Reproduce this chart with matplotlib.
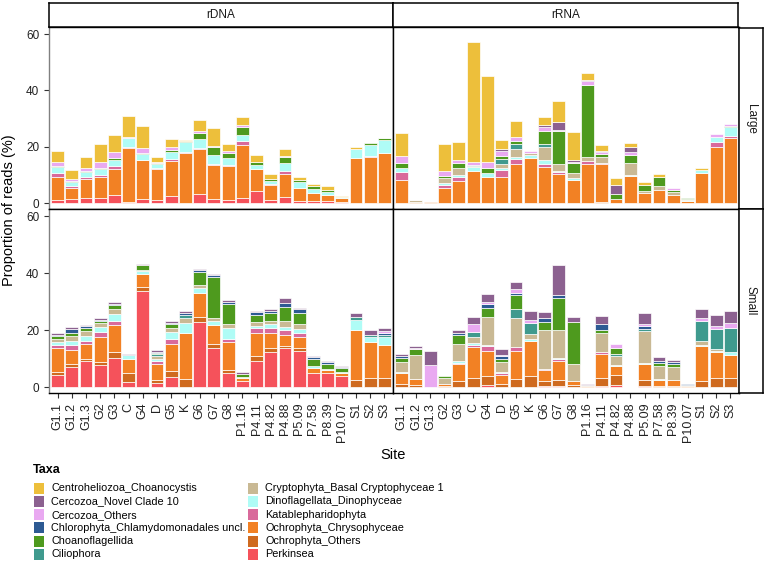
import numpy as np
import matplotlib
matplotlib.use("Agg")
import matplotlib.pyplot as plt
from matplotlib.patches import Rectangle

plt.rcParams['font.family'] = ['Liberation Sans', 'DejaVu Sans']

# Sites along the x axis
sites = ["G1.1", "G1.2", "G1.3", "G2", "G3", "C", "G4", "D", "G5", "K", "G6", "G7",
         "G8", "P1.16", "P4.11", "P4.82", "P4.88", "P5.09", "P7.58", "P8.39", "P10.07",
         "S1", "S2", "S3"]

# Legend order (top of stack first)
taxa = ["Centroheliozoa_Choanocystis", "Cercozoa_Novel Clade 10", "Cercozoa_Others",
        "Chlorophyta_Chlamydomonadales uncl.", "Choanoflagellida", "Ciliophora",
        "Cryptophyta_Basal Cryptophyceae 1", "Dinoflagellata_Dinophyceae",
        "Katablepharidophyta", "Ochrophyta_Chrysophyceae", "Ochrophyta_Others", "Perkinsea"]

taxa_colors = ["#EDBF3B", "#8C6190", "#E9A9F1", "#2D5A93", "#4E9A1E", "#3F9A8E",
               "#C9B994", "#AFFCF6", "#D96A9B", "#F28124", "#CF6A1F", "#F5525B"]

# Proportion of reads (%), one row per site, columns in stacking order (bottom -> top):
# Perkinsea, Ochro_Others, Chrysophyceae, Katablepharido, Dinophyceae, Cryptophyta,
# Ciliophora, Choanoflagellida, Chlorophyta, Cercozoa_Others, Cercozoa_NC10, Centroheliozoa
large_rdna = np.array([
    [1.1, 0, 8.1, 1.4, 2.2, 0, 0, 0.5, 0, 1.5, 0, 3.7],
    [1.4, 0, 4.1, 0.6, 1.5, 0, 0, 0.5, 0, 0.6, 0, 3.1],
    [1.8, 0, 6.7, 1.0, 1.7, 0, 0, 0.4, 0, 0.9, 0, 4.0],
    [2.0, 0, 7.2, 0.8, 2.1, 0, 0, 0.4, 0, 2.3, 0, 6.4],
    [2.8, 0, 9.2, 1.3, 2.2, 0, 0, 0.6, 0, 2.1, 0, 5.9],
    [0.6, 0, 19.0, 0.4, 3.2, 0, 0, 0, 0, 0.3, 0, 7.3],
    [1.5, 0, 13.7, 0.3, 2.0, 0, 0, 0.5, 0, 1.6, 0, 7.7],
    [1.2, 0, 10.8, 0.4, 1.4, 0, 0, 0.4, 0, 0.5, 0, 1.7],
    [2.7, 0, 12.2, 0.9, 2.4, 0, 0, 0.8, 0, 1.0, 0, 2.8],
    [0.3, 0, 17.6, 0.3, 3.4, 0, 0, 0.6, 0, 0, 0, 0.4],
    [3.2, 0, 15.9, 0.5, 3.2, 0, 0, 2.0, 0, 1.0, 0, 3.6],
    [1.4, 0, 12.1, 0.5, 3.2, 0, 0, 2.6, 0, 0.6, 0, 6.3],
    [1.1, 0, 12.1, 0.4, 2.3, 0, 0, 2.1, 0, 0.5, 0, 2.6],
    [1.9, 0, 18.7, 1.6, 1.9, 0, 0, 2.8, 0, 1.0, 0, 2.6],
    [4.5, 0, 7.5, 0, 1.6, 0, 0, 1.0, 0, 0, 0, 2.7],
    [1.2, 0, 5.2, 0.3, 1.2, 0, 0, 0.7, 0, 0, 0, 1.9],
    [2.4, 0, 8.0, 0.9, 2.9, 0, 0, 2.3, 0, 0.4, 0, 2.2],
    [0.8, 0, 4.7, 0, 2.1, 0, 0, 0.6, 0, 0, 0, 1.2],
    [0.8, 0, 2.7, 0, 1.7, 0, 0, 0.9, 0, 0, 0, 0.8],
    [0.7, 0, 2.4, 0, 0.9, 0, 0, 0.8, 0, 0, 0, 1.3],
    [0.6, 0, 1.3, 0, 0.3, 0, 0, 0, 0, 0, 0, 0.4],
    [0, 0, 16.1, 0, 3.3, 0, 0, 0, 0, 0, 0, 0.4],
    [0, 0, 16.6, 0.3, 3.9, 0, 0, 0.5, 0, 0, 0, 0],
    [0, 0, 17.8, 0, 4.8, 0, 0, 0.5, 0, 0, 0, 0.2],
])

large_rrna = np.array([
    [0.3, 0, 8.1, 2.7, 1.5, 0, 0, 1.8, 0, 2.5, 0, 8.0],
    [0, 0, 0.6, 0, 0, 0.5, 0, 0, 0, 0, 0, 0.2],
    [0, 0, 0.5, 0, 0, 0, 0, 0, 0, 0, 0, 0],
    [0, 0, 5.5, 1.0, 0.6, 2.0, 0, 0.5, 0, 2.0, 0, 9.6],
    [0, 0, 7.9, 1.4, 0.6, 2.5, 0, 1.8, 0, 1.3, 0, 6.3],
    [0, 0.3, 11.0, 0, 1.5, 0.4, 0.4, 0, 0, 1.0, 0, 42.7],
    [0, 0.2, 9.3, 0, 1.3, 0, 0, 1.6, 0, 2.3, 0, 30.4],
    [0, 0, 9.5, 2.3, 0.8, 1.2, 2.0, 0.9, 0, 1.8, 0.6, 3.4],
    [0, 0, 13.9, 1.7, 1.0, 2.7, 1.7, 1.2, 0, 1.2, 0, 5.7],
    [0, 0, 16.1, 0, 1.0, 0.8, 0, 0, 0, 0.8, 0, 0],
    [0.3, 0, 12.5, 1.1, 1.5, 4.6, 1.2, 4.6, 0, 1.1, 1.0, 2.8],
    [0.3, 0, 10.2, 0.6, 0.5, 2.5, 0, 11.4, 0, 0.4, 3.0, 7.3],
    [0, 0, 8.2, 0, 0.9, 1.6, 0, 3.7, 0, 0.3, 0.8, 9.8],
    [0, 0.3, 13.7, 0.9, 0, 1.6, 0, 25.3, 0, 1.4, 0.6, 2.3],
    [0, 0.4, 13.4, 0.5, 0, 2.1, 0, 1.0, 0, 0.7, 0.6, 2.1],
    [0, 0, 1.6, 0, 0, 0, 0, 1.8, 0, 0, 3.1, 2.6],
    [0, 0, 9.6, 0, 0.6, 4.0, 0, 3.1, 0, 0.8, 1.9, 1.5],
    [0, 0, 3.8, 0, 0, 0.6, 0, 2.2, 0, 0, 0, 0.8],
    [0, 0, 4.7, 0, 0, 1.4, 0, 3.3, 0, 0, 0, 1.1],
    [0, 0, 2.8, 0, 0, 1.3, 0, 0.8, 0, 0.5, 0, 0],
    [0, 0, 0.8, 0, 0.3, 0.6, 0, 0.2, 0, 0, 0, 0],
    [0, 0, 10.7, 0, 1.1, 0, 0, 0, 0, 0, 0, 0.8],
    [0, 0, 20.1, 1.7, 1.6, 0, 0, 0, 0, 1.2, 0, 0],
    [0, 0, 23.2, 0.6, 3.3, 0, 0, 0.4, 0, 0.7, 0, 0],
])

small_rdna = np.array([
    [4.4, 0.9, 8.3, 1.4, 0.9, 1.2, 0, 0.8, 0.6, 0, 0.7, 0],
    [7.1, 0.9, 5.1, 1.8, 1.4, 1.6, 0, 1.2, 1.2, 0, 0.7, 0],
    [9.1, 0.9, 5.2, 1.2, 1.5, 1.8, 0, 1.0, 0.7, 0, 0.4, 0],
    [7.7, 1.0, 8.8, 1.9, 1.9, 1.1, 0, 0.9, 0.4, 0, 0.5, 0],
    [10.4, 2.0, 9.4, 1.6, 2.3, 1.8, 0, 1.4, 0.4, 0, 0.5, 0],
    [1.8, 3.2, 5.0, 0, 1.2, 0, 0, 0, 0, 0, 0.6, 0],
    [33.9, 1.4, 4.5, 0, 0.9, 0.5, 0, 1.8, 0, 0, 0.3, 0],
    [1.5, 0.9, 5.9, 0.8, 0.9, 0.9, 0.8, 0.3, 0.4, 0, 0.6, 0],
    [3.7, 2.1, 9.4, 1.9, 2.4, 1.2, 0, 1.5, 0.5, 0, 0.6, 0],
    [0, 3.0, 16.1, 0, 3.3, 2.0, 1.0, 0, 0.6, 0, 0.8, 0],
    [22.8, 2.0, 8.1, 0, 1.8, 1.1, 0, 4.7, 0.6, 0, 0.5, 0],
    [13.6, 1.7, 6.5, 0, 1.6, 1.0, 0, 14.2, 0.6, 0, 0.6, 0],
    [5.0, 1.0, 9.9, 0.9, 4.1, 1.2, 0, 7.1, 0.6, 0, 0.9, 0],
    [2.1, 0, 1.1, 0, 0.5, 0, 0, 1.0, 0, 0, 0.5, 0],
    [9.3, 1.6, 8.1, 1.7, 0.9, 1.2, 0, 2.6, 0.9, 0, 0.5, 0],
    [12.4, 1.4, 5.2, 1.8, 1.3, 1.2, 0, 2.7, 0.9, 0, 0.6, 0],
    [13.8, 0.7, 4.0, 1.7, 1.1, 1.8, 0, 4.9, 1.5, 0, 1.8, 0],
    [12.6, 1.2, 3.8, 1.4, 1.4, 1.9, 0, 3.6, 1.5, 0, 0.5, 0],
    [5.1, 0, 1.6, 0, 0.7, 0, 0, 2.6, 0.5, 0, 0.4, 0],
    [5.0, 0, 1.0, 0, 0.5, 0, 0, 1.8, 0.7, 0, 0.3, 0],
    [3.8, 0, 1.2, 0, 0.5, 0, 0, 1.2, 0.5, 0, 0.2, 0],
    [0, 2.7, 17.4, 0, 3.5, 0, 1.0, 0, 0, 0, 1.6, 0],
    [0, 3.2, 12.7, 0, 1.6, 0, 0.8, 0, 0, 0, 1.8, 0],
    [0, 3.2, 11.6, 0, 2.9, 0, 0.8, 0, 0.6, 0.6, 1.0, 0],
])

small_rrna = np.array([
    [0, 1.2, 3.9, 0, 0.3, 3.5, 0, 1.4, 0.5, 0, 0.9, 0],
    [0, 0.9, 2.1, 0, 0, 8.2, 0, 2.1, 0, 0.5, 0.6, 0],
    [0, 0, 0, 0, 0, 0, 0, 0, 0, 7.9, 4.7, 0],
    [0, 0.6, 0.6, 0, 0, 2.0, 0, 0.9, 0, 0, 0, 0],
    [0, 2.1, 5.9, 0.6, 0.5, 6.0, 0, 3.2, 0.8, 0, 0.9, 0],
    [0, 3.3, 10.9, 0.8, 0.7, 2.0, 1.8, 0, 0, 2.6, 2.5, 0],
    [0.8, 3.2, 8.8, 1.7, 0.3, 10.0, 0, 2.9, 1.5, 0.7, 2.9, 0],
    [0, 1.2, 3.2, 0.6, 0.5, 3.4, 0, 0.9, 1.1, 0.4, 2.0, 0],
    [0, 3.0, 9.6, 1.6, 0, 10.0, 3.2, 4.8, 0.9, 1.5, 2.4, 0],
    [0, 3.8, 12.5, 0, 0.8, 1.7, 3.9, 0, 0, 0.8, 3.3, 0],
    [0.6, 1.5, 3.9, 0.5, 0, 13.5, 0, 2.8, 1.6, 0, 1.9, 0],
    [0.5, 1.9, 6.8, 0.6, 0.6, 9.7, 0, 11.2, 1.2, 0, 10.2, 0],
    [0, 0.9, 1.2, 0, 0, 5.9, 0, 14.8, 0, 0, 1.8, 0],
    [0, 0, 0.5, 0, 0, 0.4, 0, 0, 0, 0, 0.3, 0],
    [0.5, 2.9, 8.4, 0.5, 0, 6.7, 0, 1.1, 2.1, 0, 2.9, 0],
    [0.8, 3.6, 2.9, 0, 0.6, 3.1, 0.8, 2.1, 0, 1.3, 0, 0],
    [0, 0, 0, 0, 0, 0, 0, 0, 0, 0, 0, 0],
    [0.5, 2.2, 5.4, 0, 0.5, 11.1, 0.8, 0, 1.1, 0.7, 3.7, 0],
    [0, 0.6, 2.1, 0, 0.2, 4.5, 0, 1.2, 0.5, 0, 1.4, 0],
    [0, 0.6, 1.8, 0, 0, 4.6, 0, 1.1, 0.6, 0, 1.0, 0],
    [0, 0, 0.3, 0, 0, 0.4, 0, 0, 0.5, 0, 0, 0],
    [0, 2.2, 12.2, 0, 0.6, 1.2, 7.1, 0, 0, 0.9, 3.2, 0],
    [0, 3.4, 9.0, 0, 0.4, 0.5, 7.0, 0, 0, 1.2, 3.9, 0],
    [0, 3.4, 7.8, 0, 1.0, 0.3, 8.3, 0, 0, 1.6, 4.4, 0],
])

W, H = 767, 563


def box(x0, y0, x1, y1):
    # pixel box -> figure fraction
    return [x0 / W, 1 - y1 / H, (x1 - x0) / W, (y1 - y0) / H]


def draw_panel(ax, data):
    stack_colors = taxa_colors[::-1]
    x = np.arange(len(sites))
    bottom = np.zeros(len(sites))
    for j in range(data.shape[1]):
        h = data[:, j]
        m = h > 0
        ax.bar(x[m], h[m], bottom=bottom[m], width=0.9, color=stack_colors[j],
               edgecolor="white", linewidth=0.5)
        bottom += h
    ax.set_xlim(-0.6, len(sites) - 0.4)
    ax.set_ylim(-2, 62.5)
    ax.set_yticks([0, 20, 40, 60])
    ax.set_xticks(x)
    for s in ax.spines.values():
        s.set_color("black")
        s.set_linewidth(1.0)
    ax.tick_params(length=3.5, width=0.8, color="#333333", labelsize=8.5,
                   labelcolor="#222222")


def strip(rect, label, rotation=0):
    sa = fig.add_axes(rect)
    sa.set_xticks([])
    sa.set_yticks([])
    for s in sa.spines.values():
        s.set_linewidth(1.1)
    sa.text(0.5, 0.5, label, ha="center", va="center", rotation=rotation,
            fontsize=8.5, color="#1a1a1a", transform=sa.transAxes)


fig = plt.figure(figsize=(7.67, 5.63), dpi=100)

cols_px = [(49, 393), (393, 739)]
rows_px = [(27, 209), (209, 393)]
panel_data = [[large_rdna, large_rrna], [small_rdna, small_rrna]]

for r, (y0, y1) in enumerate(rows_px):
    for c, (x0, x1) in enumerate(cols_px):
        ax = fig.add_axes(box(x0, y0, x1, y1))
        draw_panel(ax, panel_data[r][c])
        if c == 0:
            ax.spines["left"].set_color("#808080")
        else:
            ax.tick_params(axis="y", left=False, labelleft=False)
        if r == 1:
            ax.set_xticklabels(sites, rotation=90, fontsize=9)
        else:
            ax.tick_params(axis="x", bottom=False, labelbottom=False)

strip(box(49, 3, 393, 27), "rDNA")
strip(box(393, 3, 738, 27), "rRNA")
strip(box(739, 28, 763, 209), "Large", rotation=270)
strip(box(739, 209, 763, 393), "Small", rotation=270)

fig.text(9 / W, 1 - 210 / H, "Proportion of reads (%)", rotation=90,
         ha="center", va="center", fontsize=10.5)
fig.text(393 / W, 1 - 455 / H, "Site", ha="center", va="center", fontsize=10.5)

# Legend
fig.text(33 / W, 1 - 470 / H, "Taxa", ha="left", va="center", fontsize=9,
         fontweight="bold")
for i, (name, col) in enumerate(zip(taxa, taxa_colors)):
    c, r = divmod(i, 6)
    px = 34 if c == 0 else 248
    py = 488.3 + r * 13.2
    fig.patches.append(Rectangle((px / W, 1 - (py + 5.5) / H), 10 / W, 11 / H,
                                 facecolor=col, edgecolor="none",
                                 transform=fig.transFigure, figure=fig))
    fig.text((px + 17) / W, 1 - py / H, name, ha="left", va="center", fontsize=7.8)

fig.savefig("out.png", dpi=100)
